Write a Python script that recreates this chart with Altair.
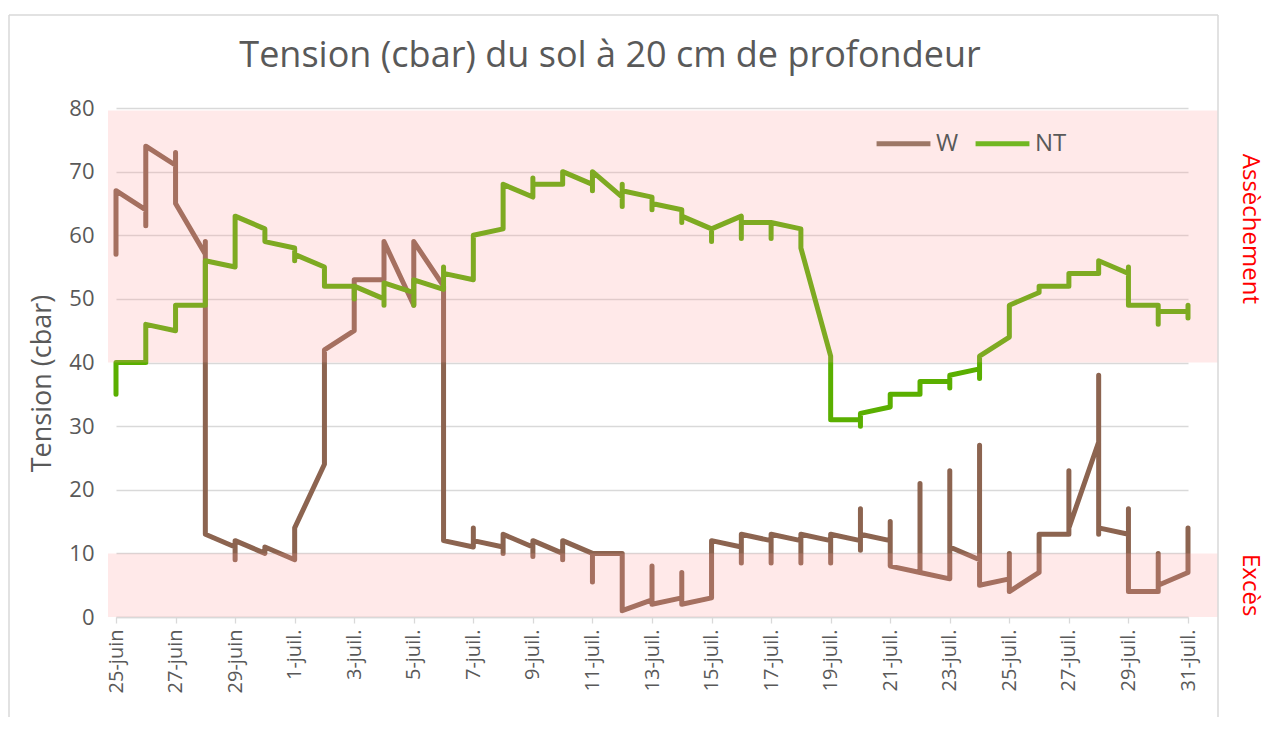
import json
import altair as alt
import pandas as pd

# ---------------- data ----------------
DAY_LABELS = [
    "25-juin", "26-juin", "27-juin", "28-juin", "29-juin", "30-juin",
    "1-juil.", "2-juil.", "3-juil.", "4-juil.", "5-juil.", "6-juil.", "7-juil.",
    "8-juil.", "9-juil.", "10-juil.", "11-juil.", "12-juil.", "13-juil.",
    "14-juil.", "15-juil.", "16-juil.", "17-juil.", "18-juil.", "19-juil.",
    "20-juil.", "21-juil.", "22-juil.", "23-juil.", "24-juil.", "25-juil.",
    "26-juil.", "27-juil.", "28-juil.", "29-juil.", "30-juil.", "31-juil.",
]

# readings per day (in drawing order), one inner list per day of DAY_LABELS
W_READINGS = [
    [57, 67], [64, 61.5, 74], [71, 73, 65], [57, 59, 13], [11, 9, 12], [10, 11],
    [9, 14], [24, 42], [45, 53], [53, 59], [49, 59], [52, 12], [11, 14, 12],
    [11, 10, 13], [11, 9.5, 12], [10, 9, 12], [10, 5.5, 10], [10, 1],
    [2.7, 8, 2], [3, 7, 2], [3, 12], [11, 8.5, 13], [12, 8.5, 13],
    [12, 8.5, 13], [12, 8.5, 13], [12, 10.5, 17, 13], [12, 15, 8], [7, 21, 7],
    [6, 23, 11], [9, 27, 5], [6, 10, 4], [7, 13], [13, 23, 14],
    [27.5, 38, 13, 14], [13, 17, 4], [4, 10, 5], [7, 14],
]

NT_READINGS = [
    [35, 40], [40, 46], [45, 49], [49, 56], [55, 63], [61, 59],
    [58, 56, 57], [55, 52], [52, 50, 52], [50, 49, 52.5], [51, 49, 53],
    [51.5, 55, 54], [53, 60], [61, 68], [66, 69, 68], [68, 70], [68, 67, 70],
    [66, 64.5, 68, 67], [66, 64, 65], [64, 62, 63], [61, 59, 61],
    [63, 59.5, 62], [62, 59.5, 62], [61, 58], [41, 31], [31, 30, 32],
    [33, 35], [35, 37], [37, 36, 38], [39, 37.5, 41], [44, 49], [51, 52],
    [52, 54], [54, 56], [54, 55, 49], [49, 46, 48], [48, 49, 47],
]

SERIES = ["W", "NT"]
COLORS = ["#8C6450", "#5AAF00"]

BAND_LOW = [40, 0]
BAND_HIGH = [79.6, 10]
BAND_LABELS = ["Assèchement", "Excès"]
BAND_LABEL_Y = [61, 5]

TITLE = "Tension (cbar) du sol à 20 cm de profondeur"
Y_TITLE = "Tension (cbar)"

# ---------------- tables ----------------
rows = []
for name, readings in (("W", W_READINGS), ("NT", NT_READINGS)):
    seq = 0
    for day, vals in enumerate(readings):
        for v in vals:
            rows.append({"series": name, "day": day, "value": v, "seq": seq})
            seq += 1
df = pd.DataFrame(rows)

bands = pd.DataFrame({"low": BAND_LOW, "high": BAND_HIGH})
band_text = pd.DataFrame({"label": BAND_LABELS, "y": BAND_LABEL_Y})
one = pd.DataFrame({"k": [0]})
title_df = pd.DataFrame({"t": [TITLE]})

W, H = 1072, 509
FONT = "Open Sans"
GREY = "#595959"
GRID = "#D9D9D9"

label_expr = json.dumps(DAY_LABELS) + "[datum.value]"

x_enc = alt.X(
    "day:Q",
    scale=alt.Scale(domain=[0, 36], nice=False, zero=False),
    axis=alt.Axis(
        values=list(range(0, 37, 2)),
        labelExpr=label_expr,
        labelAngle=-90,
        labelFontSize=20,
        labelFont=FONT,
        labelColor=GREY,
        labelPadding=6,
        grid=False,
        domainColor=GRID,
        domainWidth=1.3,
        tickColor=GRID,
        tickWidth=1.3,
        tickSize=6,
        title=None,
    ),
)
y_enc = alt.Y(
    "value:Q",
    scale=alt.Scale(domain=[0, 80], nice=False),
    axis=alt.Axis(
        values=list(range(0, 81, 10)),
        labelFontSize=22,
        labelFont=FONT,
        labelColor=GREY,
        labelPadding=22,
        ticks=False,
        domain=False,
        gridColor=GRID,
        gridWidth=1.3,
        title=Y_TITLE,
        titleFont=FONT,
        titleFontSize=27,
        titleFontWeight="normal",
        titleColor=GREY,
        titleAngle=-90,
        titleX=-74,
        titleY=275,
        titleAlign="center",
        titleBaseline="middle",
    ),
)

lines = alt.Chart(df).mark_line(
    strokeWidth=5, strokeCap="round", strokeJoin="round"
).encode(
    x=x_enc,
    y=y_enc,
    color=alt.Color(
        "series:N",
        scale=alt.Scale(domain=SERIES, range=COLORS),
        sort=SERIES,
        legend=alt.Legend(
            title=None,
            orient="none",
            legendX=758,
            legendY=6,
            direction="horizontal",
            symbolType="stroke",
            symbolSize=2900,
            symbolStrokeWidth=5,
            symbolOpacity=0.85,
            labelFontSize=24,
            labelFont=FONT,
            labelColor=GREY,
            labelOffset=3,
            columnPadding=6,
        ),
    ),
    order="seq:Q",
)

band_rects = alt.Chart(bands).mark_rect(color="#FF9999", opacity=0.22).encode(
    y=alt.Y("low:Q"),
    y2="high:Q",
    x=alt.value(-8),
    x2=alt.value(1102),
)

band_labels = alt.Chart(band_text).mark_text(
    angle=90, color="#FF0000", fontSize=24, font=FONT, align="center", baseline="middle"
).encode(
    y=alt.Y("y:Q"),
    x=alt.value(1134),
    text="label:N",
)

title_mark = alt.Chart(title_df).mark_text(
    font=FONT, fontSize=36, color=GREY, align="center", baseline="alphabetic"
).encode(
    x=alt.value(494),
    y=alt.value(-41),
    text="t:N",
)

frame_top = alt.Chart(one).mark_rule(color=GRID, strokeWidth=1.5).encode(
    x=alt.value(-107), x2=alt.value(1102), y=alt.value(-93)
)
frame_right = alt.Chart(one).mark_rule(color=GRID, strokeWidth=1.5).encode(
    x=alt.value(1102), y=alt.value(-93), y2=alt.value(620)
)
frame_left = alt.Chart(one).mark_rule(color=GRID, strokeWidth=1.5).encode(
    x=alt.value(-107), y=alt.value(-93), y2=alt.value(620)
)

chart = alt.layer(
    lines, band_rects, band_labels, title_mark, frame_top, frame_right, frame_left
).properties(
    width=W,
    height=H,
    padding={"left": 108, "top": 100, "right": 80, "bottom": 100},
    autosize=alt.AutoSizeParams(type="none"),
).configure_view(stroke=None)

chart.save("out.html", embed_options={"renderer": "svg", "actions": False})
